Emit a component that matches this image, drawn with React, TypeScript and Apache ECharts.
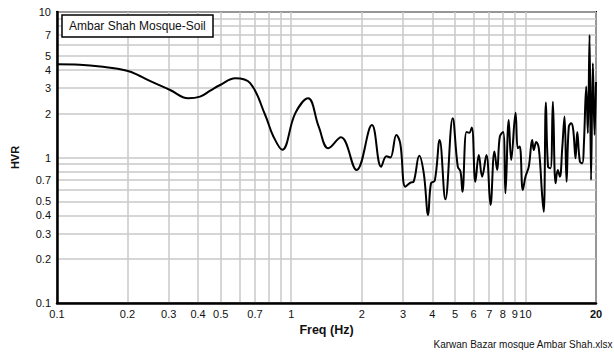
import React, { useEffect, useRef } from "react";
import * as echarts from "echarts";

const freq: number[] = [
  0.1, 0.125, 0.153, 0.199, 0.226, 0.249, 0.304, 0.363, 0.408, 0.451, 0.497, 0.577,
  0.668, 0.774, 0.84, 0.915,
  1.04, 1.18, 1.31, 1.44, 1.63, 1.9, 2.21, 2.42, 2.55, 2.65, 2.81, 2.92,
  3.07, 3.23, 3.33, 3.52, 3.68, 3.84, 3.95, 4.1, 4.3, 4.55, 4.89, 5.14,
  5.28, 5.38, 5.6, 5.75, 5.9, 6.11, 6.32, 6.53, 6.81, 7.09, 7.37, 7.57,
  7.77, 8.03, 8.21, 8.48, 8.69, 9.07, 9.27, 9.45, 9.74, 10.0, 10.33, 10.68,
  10.85, 11.11, 11.4, 11.79, 11.97, 12.22, 12.48, 12.79, 13.09, 13.44, 13.74, 14.02,
  14.35, 14.68, 14.97, 15.31, 15.68, 15.99, 16.36, 16.63, 17.07, 17.48, 17.75, 18.17,
  18.46, 18.77, 19.05, 19.39, 19.72, 20.0,
];

const hvr: number[] = [
  4.37, 4.34, 4.22, 3.95, 3.63, 3.36, 2.91, 2.55, 2.62, 2.88, 3.15, 3.5,
  3.24, 1.96, 1.39, 1.13,
  2.01, 2.55, 1.63, 1.157, 1.377, 0.82, 1.67, 0.865, 1.02, 1.0, 1.43, 1.25,
  0.63, 0.671, 0.682, 1.03, 0.779, 0.403, 0.665, 0.693, 1.32, 0.516, 1.86, 0.865,
  0.799, 0.582, 1.5, 1.48, 1.61, 0.682, 1.04, 0.738, 1.04, 0.472, 1.1, 0.821,
  1.39, 1.5, 0.567, 1.81, 0.961, 2.03, 1.157, 1.19, 0.598, 0.738, 0.865, 1.32,
  1.126, 1.28, 1.157, 0.538, 0.424, 2.39, 0.865, 0.843, 2.42, 0.665, 0.821, 0.738,
  1.157, 1.91, 0.682, 1.63, 1.72, 1.55, 0.987, 1.5, 0.936, 0.912, 1.22, 3.07,
  1.47, 6.95, 0.7, 4.44, 1.43, 3.3,
];

const xGridValues: number[] = [
  0.1, 0.2, 0.3, 0.4, 0.5, 0.6, 0.7, 0.8, 0.9, 1, 2, 3, 4, 5, 6, 7, 8, 9, 10, 20,
];
const xLabelValues: number[] = [
  0.1, 0.2, 0.3, 0.4, 0.5, 0.7, 1, 2, 3, 4, 5, 6, 7, 8, 9, 10, 20,
];
const yGridValues: number[] = [
  0.1, 0.2, 0.3, 0.4, 0.5, 0.6, 0.7, 0.8, 0.9, 1, 2, 3, 4, 5, 6, 7, 8, 9, 10,
];
const yLabelValues: number[] = [0.1, 0.2, 0.3, 0.4, 0.5, 0.7, 1, 2, 3, 4, 5, 7, 10];

const X_MIN = 0.1;
const X_MAX = 20;
const Y_MIN = 0.1;
const Y_MAX = 10;

const FONT = "'Liberation Sans', Arial, sans-serif";

const lg = (v: number) => Math.log10(v);
const fmt = (v: number) => String(parseFloat(Math.pow(10, v).toPrecision(3)));

export default function App() {
  const ref = useRef<HTMLDivElement>(null);

  useEffect(() => {
    if (!ref.current) return;
    const chart = echarts.init(ref.current, undefined, { renderer: "svg" });
    const data = freq.map((f, i) => [lg(f), lg(hvr[i])]);
    const gridLine = { show: true, lineStyle: { color: "#c8c8c8", width: 1.5 } };
    chart.setOption({
      animation: false,
      backgroundColor: "#ffffff",
      textStyle: { fontFamily: FONT },
      title: [
        {
          text: "Ambar Shah Mosque-Soil",
          left: 62,
          top: 15,
          padding: [5, 8, 5, 7],
          borderColor: "#000",
          borderWidth: 1.5,
          backgroundColor: "#fff",
          textStyle: { fontSize: 12, fontWeight: "normal", color: "#111", fontFamily: FONT },
        },
        {
          text: "Karwan Bazar mosque Ambar Shah.xlsx",
          right: 1,
          bottom: 3,
          padding: 0,
          textStyle: { fontSize: 10, fontWeight: "normal", color: "#111", fontFamily: FONT },
        },
      ],
      grid: {
        left: 57,
        right: 18,
        top: 12,
        bottom: 49,
        show: true,
        borderColor: "#000",
        borderWidth: 2,
        backgroundColor: "transparent",
      },
      xAxis: {
        type: "value",
        min: lg(X_MIN),
        max: lg(X_MAX),
        name: "Freq (Hz)",
        nameLocation: "middle",
        nameGap: 18,
        nameTextStyle: { fontSize: 12.5, fontWeight: "bold", color: "#111", fontFamily: FONT },
        axisLine: { show: true, onZero: false, lineStyle: { color: "#000", width: 2.5 } },
        axisTick: { show: false, customValues: xGridValues.map(lg) },
        splitLine: gridLine,
        axisLabel: {
          customValues: xLabelValues.map(lg),
          interval: 0,
          hideOverlap: false,
          margin: 5,
          fontSize: 11,
          color: "#111",
          fontFamily: FONT,
          formatter: (v: number) => {
            const s = fmt(v);
            return s === "20" ? "{b|20}" : s;
          },
          rich: { b: { fontWeight: "bold", fontSize: 11, color: "#111", fontFamily: FONT } },
        },
      },
      yAxis: {
        type: "value",
        min: lg(Y_MIN),
        max: lg(Y_MAX),
        name: "HVR",
        nameLocation: "middle",
        nameGap: 37,
        nameRotate: 90,
        nameTextStyle: { fontSize: 11, fontWeight: "bold", color: "#111", fontFamily: FONT },
        axisLine: { show: true, onZero: false, lineStyle: { color: "#000", width: 2.5 } },
        axisTick: { show: false, customValues: yGridValues.map(lg) },
        splitLine: gridLine,
        axisLabel: {
          customValues: yLabelValues.map(lg),
          interval: 0,
          margin: 6,
          fontSize: 11,
          color: "#111",
          fontFamily: FONT,
          formatter: (v: number) => fmt(v),
        },
      },
      series: [
        {
          type: "line",
          data,
          smooth: 0.4,
          showSymbol: false,
          symbol: "none",
          lineStyle: { color: "#000", width: 2 },
          z: 5,
        },
      ],
    });
    return () => chart.dispose();
  }, []);

  return (
    <div
      ref={ref}
      style={{ position: "fixed", left: 0, top: 0, width: 614, height: 352 }}
    />
  );
}
